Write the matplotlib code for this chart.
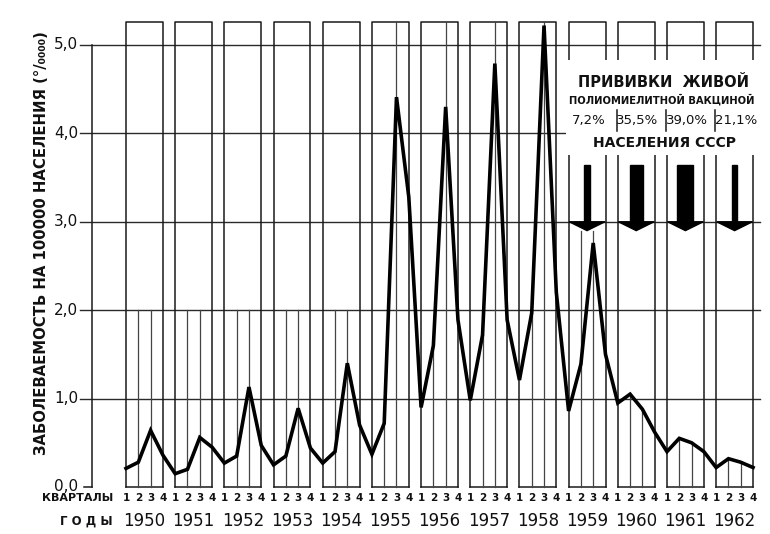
import matplotlib
matplotlib.use("Agg")
import matplotlib.pyplot as plt

# ---------------- data ----------------
years = [1950, 1951, 1952, 1953, 1954, 1955, 1956,
         1957, 1958, 1959, 1960, 1961, 1962]
quarter_labels = ["1", "2", "3", "4"]
# quarterly incidence per 100000 population
incidence = [
    0.21, 0.28, 0.64, 0.36,   # 1950
    0.15, 0.20, 0.56, 0.45,   # 1951
    0.27, 0.35, 1.13, 0.47,   # 1952
    0.25, 0.35, 0.89, 0.44,   # 1953
    0.27, 0.40, 1.40, 0.70,   # 1954
    0.37, 0.72, 4.41, 3.28,   # 1955
    0.90, 1.60, 4.30, 1.89,   # 1956
    0.98, 1.72, 4.79, 1.89,   # 1957
    1.21, 1.97, 5.22, 2.20,   # 1958
    0.86, 1.39, 2.76, 1.50,   # 1959
    0.95, 1.05, 0.88, 0.62,   # 1960
    0.40, 0.55, 0.50, 0.40,   # 1961
    0.22, 0.32, 0.28, 0.22,   # 1962
]
yticks = [0, 1, 2, 3, 4, 5]
ytick_labels = ["0,0", "1,0", "2,0", "3,0", "4,0", "5,0"]
vacc_years = [1959, 1960, 1961, 1962]
vacc_pct = ["7,2%", "35,5%", "39,0%", "21,1%"]

ylabel = "ЗАБОЛЕВАЕМОСТЬ НА 100000 НАСЕЛЕНИЯ (°/₀₀₀₀)"

# ---------------- figure ----------------
fig = plt.figure(figsize=(7.7, 5.34), dpi=100)
ax = fig.add_axes([0, 0, 1, 1])
ax.set_xlim(-10.25, 52.38)
ax.set_ylim(-0.532, 5.509)
ax.axis("off")

FONT = "DejaVu Sans"
LC = "#1a1a1a"
box_top = 5.26
axis_x = -2.77

xs = [4 * i + q for i in range(len(years)) for q in range(4)]

# horizontal grid lines
for t in yticks[1:]:
    ax.plot([-3.75, 51.6], [t, t], color="#2a2a2a", lw=1.0, zorder=2)
# y axis line with bottom hook
ax.plot([axis_x, axis_x], [0, 5], color=LC, lw=1.1, zorder=2)
ax.plot([-3.4, axis_x], [0, 0], color=LC, lw=1.1, zorder=2)
for t, lab in zip(yticks, ytick_labels):
    ax.text(-3.9, t, lab, ha="right", va="center", fontsize=11,
            family=FONT, color="#111")

# year boxes
for i, yr in enumerate(years):
    x0, x1 = 4 * i, 4 * i + 3
    ax.plot([x0, x0, x1, x1], [0, box_top, box_top, 0], color=LC, lw=1.1, zorder=2)
    ax.plot([x0, x1], [0, 0], color=LC, lw=1.1, zorder=2)
    # inner quarter lines (Q2, Q3)
    for q in (1, 2):
        v = incidence[4 * i + q]
        if yr < 1955:
            top = max(v, 2.0)
        elif yr < 1959:
            top = box_top if q == 2 else v
        elif yr == 1959:
            top = 2.9
        else:
            top = v
        ax.plot([x0 + q, x0 + q], [0, top], color="#444", lw=0.9, zorder=2)
    # labels
    for q, ql in enumerate(quarter_labels):
        ax.text(x0 + q, -0.125, ql, ha="center", va="center", fontsize=7.5,
                family=FONT, fontweight="bold", color="#111")
    ax.text(x0 + 1.5, -0.385, str(yr), ha="center", va="center", fontsize=12,
            family=FONT, color="#111")

ax.text(-1.05, -0.125, "КВАРТАЛЫ", ha="right", va="center", fontsize=8,
        family=FONT, fontweight="bold", color="#111")
ax.text(-1.05, -0.385, "Г О Д Ы", ha="right", va="center", fontsize=8.5,
        family=FONT, fontweight="bold", color="#111")

ax.text(-6.85, 2.76, ylabel, rotation=90, ha="center", va="center",
        fontsize=10.7, family=FONT, fontweight="bold", color="#111")

# data curve
ax.plot(xs, incidence, color="black", lw=2.6, solid_joinstyle="miter",
        zorder=5)

# vaccination annotation (white panel)
ax.add_patch(plt.Rectangle((35.8, 3.76), 15.9, 1.07, facecolor="white",
                           edgecolor="none", zorder=3))
ax.text(43.7, 4.58, "ПРИВИВКИ  ЖИВОЙ", ha="center", va="center", fontsize=10.5,
        family=FONT, fontweight="bold", color="#111", zorder=6)
ax.text(43.6, 4.38, "ПОЛИОМИЕЛИТНОЙ ВАКЦИНОЙ", ha="center", va="center",
        fontsize=7.2, family=FONT, fontweight="bold", color="#111", zorder=6)
ax.text(43.8, 3.89, "НАСЕЛЕНИЯ СССР", ha="center", va="center", fontsize=10,
        family=FONT, fontweight="bold", color="#111", zorder=6)

shaft_w = {1959: 0.42, 1960: 1.05, 1961: 1.3, 1962: 0.42}
for yr, pct in zip(vacc_years, vacc_pct):
    i = years.index(yr)
    cx = 4 * i + 1.5
    ax.text(cx + 0.1, 4.15, pct, ha="center", va="center", fontsize=9.5,
            family=FONT, color="#111", zorder=6)
    if i > years.index(vacc_years[0]):
        ax.plot([4 * i - 0.1, 4 * i - 0.1], [4.03, 4.27], color=LC, lw=1.1,
                zorder=6)
    w = shaft_w[yr] / 2
    ax.fill([cx - w, cx + w, cx + w, cx - w], [3.64, 3.64, 3.0, 3.0],
            color="black", zorder=6)
    ax.fill([cx - 1.45, cx + 1.45, cx], [3.0, 3.0, 2.9], color="black",
            zorder=6)

fig.savefig("out.png", dpi=100, facecolor="white")
